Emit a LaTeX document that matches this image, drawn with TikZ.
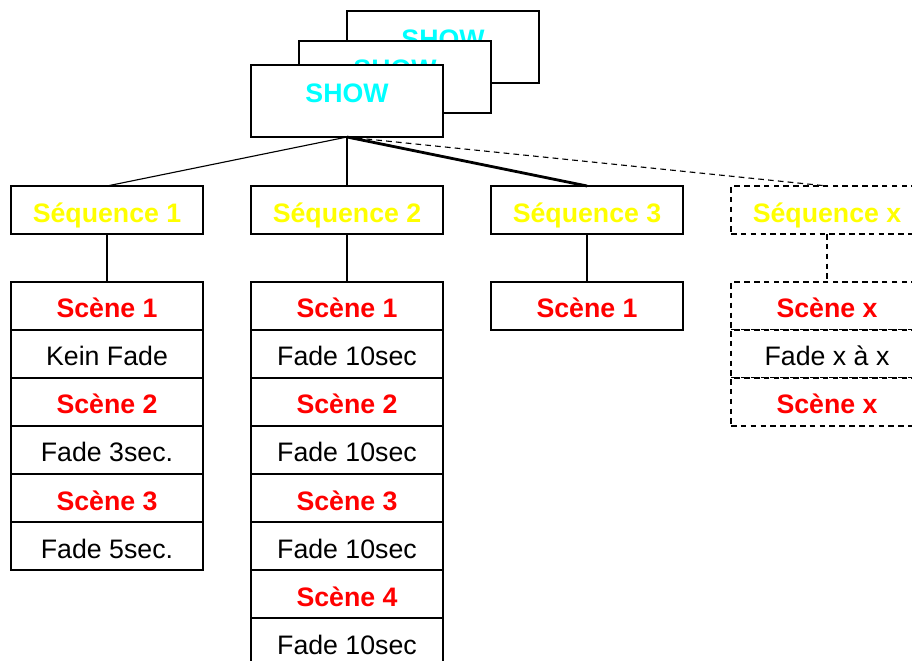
\documentclass[tikz,border=0pt]{standalone}
\usepackage{fontspec}
\setmainfont{Liberation Sans}
\usetikzlibrary{positioning}

\definecolor{showcyan}{RGB}{0,255,255}
\definecolor{seqyellow}{RGB}{255,255,0}
\definecolor{scenered}{RGB}{255,0,0}
\newcommand{\boxfont}{\fontsize{19}{22}\selectfont}
\tikzset{
  box/.style={draw, fill=white, line width=1pt, outer sep=0pt, inner sep=0pt,
    minimum width=4.8cm, minimum height=1.2cm, font=\boxfont,
    text height=17pt, text depth=0pt},
  showbox/.style={box, minimum height=1.8cm, text=showcyan, font=\boxfont\bfseries,
    text height=13.6pt, text depth=11.4pt},
  seqbox/.style={box, text=seqyellow, font=\boxfont\bfseries, text height=18pt},
  scenebox/.style={box, text=scenered, font=\boxfont\bfseries},
  fadebox/.style={box},
  maybe/.style={dash pattern=on 4pt off 3pt}
}

\begin{document}
\begin{tikzpicture}[x=0.025cm, y=-0.025cm]
\useasboundingbox (0,0) rectangle (912,661);
\clip (0,0) rectangle (912,661);
% the show, stacked
\node [showbox] (show_3) at (443,47) {SHOW};
\node [showbox] (show_2) at (395,77) {SHOW};
\node [showbox] (show) at (347,101) {SHOW};
% sequences
\node [seqbox] (seq_1) at (107,210) {Séquence 1};
\node [seqbox] (seq_2) at (347,210) {Séquence 2};
\node [seqbox] (seq_3) at (587,210) {Séquence 3};
\node [seqbox, maybe] (seq_x) at (827,210) {Séquence x};
\draw [line width=0.8pt] (show.south) -- (seq_1.north);
\draw [line width=0.8pt] (show.south) -- (seq_2.north);
\draw [line width=2pt] (show.south) -- (seq_3.north);
\draw [line width=0.8pt, maybe] (show.south) -- (seq_x.north);
% scenes of sequence 1
\node [scenebox] (sc_1_1) at (107,306) {Scène 1};
\node [fadebox, below=0pt of sc_1_1] (fd_1_1) {Kein Fade};
\node [scenebox, below=0pt of fd_1_1] (sc_1_2) {Scène 2};
\node [fadebox, below=0pt of sc_1_2] (fd_1_2) {Fade 3sec.};
\node [scenebox, below=0pt of fd_1_2] (sc_1_3) {Scène 3};
\node [fadebox, below=0pt of sc_1_3] (fd_1_3) {Fade 5sec.};
\draw [line width=0.8pt] (seq_1.south) -- (sc_1_1.north);
% scenes of sequence 2
\node [scenebox] (sc_2_1) at (347,306) {Scène 1};
\node [fadebox, below=0pt of sc_2_1] (fd_2_1) {Fade 10sec};
\node [scenebox, below=0pt of fd_2_1] (sc_2_2) {Scène 2};
\node [fadebox, below=0pt of sc_2_2] (fd_2_2) {Fade 10sec};
\node [scenebox, below=0pt of fd_2_2] (sc_2_3) {Scène 3};
\node [fadebox, below=0pt of sc_2_3] (fd_2_3) {Fade 10sec};
\node [scenebox, below=0pt of fd_2_3] (sc_2_4) {Scène 4};
\node [fadebox, below=0pt of sc_2_4] (fd_2_4) {Fade 10sec};
\draw [line width=0.8pt] (seq_2.south) -- (sc_2_1.north);
% scene of sequence 3
\node [scenebox] (sc_3_1) at (587,306) {Scène 1};
\draw [line width=0.8pt] (seq_3.south) -- (sc_3_1.north);
% sequence x
\node [scenebox, maybe] (sc_x_1) at (827,306) {Scène x};
\node [fadebox, maybe, below=0pt of sc_x_1] (fd_x_1) {Fade x à x};
\node [scenebox, maybe, below=0pt of fd_x_1] (sc_x_2) {Scène x};
\draw [line width=0.8pt, maybe] (seq_x.south) -- (sc_x_1.north);
\end{tikzpicture}
\end{document}
